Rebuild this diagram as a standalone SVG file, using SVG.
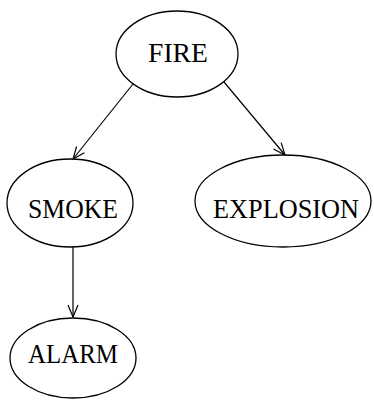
<svg xmlns="http://www.w3.org/2000/svg" width="374" height="400" viewBox="0 0 374 400">
<style>
.node ellipse{fill:#fff;stroke:#000;stroke-width:1.3}
.node text{font-family:"Liberation Serif","DejaVu Serif",serif;font-size:27px;text-anchor:middle;fill:#000}
.edge{stroke:#000;stroke-width:1.2;fill:none;marker-end:url(#arr)}
</style>
<defs>
<marker id="arr" viewBox="0 0 14 12" refX="13" refY="6" markerWidth="14" markerHeight="12" markerUnits="userSpaceOnUse" orient="auto">
<path d="M1,1 L13,6 L1,11" fill="none" stroke="#000" stroke-width="1.2"/>
</marker>
</defs>
<g id="connectors">
<line class="edge" x1="133" y1="84" x2="73" y2="159"/>
<line class="edge" x1="224" y1="82" x2="285" y2="155"/>
<line class="edge" x1="73" y1="247" x2="73" y2="317"/>
</g>
<g id="fire" class="node">
<ellipse cx="177" cy="54" rx="61" ry="43"/>
<text x="178" y="62" textLength="60" lengthAdjust="spacingAndGlyphs">FIRE</text>
</g>
<g id="smoke" class="node">
<ellipse cx="70" cy="203" rx="63" ry="44"/>
<text x="73" y="218" textLength="90" lengthAdjust="spacingAndGlyphs">SMOKE</text>
</g>
<g id="explosion" class="node">
<ellipse cx="283" cy="201" rx="88" ry="46"/>
<text x="286" y="218" textLength="146" lengthAdjust="spacingAndGlyphs">EXPLOSION</text>
</g>
<g id="alarm" class="node">
<ellipse cx="73" cy="358" rx="63" ry="40"/>
<text x="73" y="363" textLength="90" lengthAdjust="spacingAndGlyphs">ALARM</text>
</g>
</svg>
